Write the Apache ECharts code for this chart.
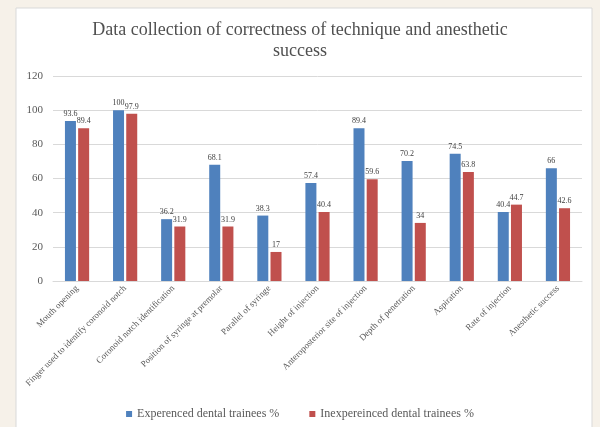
<!DOCTYPE html>
<html>
<head>
<meta charset="utf-8">
<script src="https://cdn.jsdelivr.net/npm/echarts@6/dist/echarts.min.js"></script>
<style>
html,body{margin:0;padding:0;background:#f6f1e9;}
#c{width:600px;height:427px;}
</style>
</head>
<body>
<div id="c"></div>
<script>
const categories = [
  "Mouth opening",
  "Finger used to identify coronoid notch",
  "Coronoid notch identification",
  "Position of syringe at premolar",
  "Parallel of syringe",
  "Height of injection",
  "Anteroposterior site of injection",
  "Depth of penetration",
  "Aspiration",
  "Rate of injection",
  "Anesthetic success"
];
const experienced = [93.6, 100, 36.2, 68.1, 38.3, 57.4, 89.4, 70.2, 74.5, 40.4, 66];
const inexperienced = [89.4, 97.9, 31.9, 31.9, 17, 40.4, 59.6, 34, 63.8, 44.7, 42.6];
const seriesNames = ["Experenced dental trainees %", "Inexpereinced dental trainees %"];
const titleText = "Data collection of correctness of technique and anesthetic\nsuccess";

const serif = "'Liberation Serif', 'DejaVu Serif', serif";
const chart = echarts.init(document.getElementById('c'), null, {renderer: 'canvas'});
const labelCfg = {show: true, position: 'top', fontSize: 8, color: '#404040', fontFamily: serif, distance: 3};
chart.setOption({
  backgroundColor: '#f6f1e9',
  graphic: [{
    type: 'rect', z: -10, silent: true,
    shape: {x: 16, y: 8, width: 576, height: 430},
    style: {fill: '#ffffff', stroke: '#d9d9d9', lineWidth: 1}
  }],
  title: {
    text: titleText, left: 'center', top: 15,
    textStyle: {fontFamily: serif, fontSize: 18, fontWeight: 'normal', color: '#505050', lineHeight: 21}
  },
  legend: {
    bottom: 2, left: 'center', itemWidth: 6, itemHeight: 6, itemGap: 30, icon: 'rect',
    textStyle: {fontFamily: serif, fontSize: 12, color: '#595959'},
    data: seriesNames
  },
  grid: {left: 53, right: 18, top: 76, bottom: 146},
  xAxis: {
    type: 'category', data: categories,
    axisLine: {lineStyle: {color: '#d9d9d9'}},
    axisTick: {show: false},
    axisLabel: {rotate: 45, interval: 0, fontSize: 9, color: '#595959', fontFamily: serif, margin: 6}
  },
  yAxis: {
    type: 'value', min: 0, max: 120, interval: 20,
    axisLine: {show: false}, axisTick: {show: false},
    axisLabel: {fontSize: 11, color: '#595959', fontFamily: serif, margin: 10},
    splitLine: {lineStyle: {color: '#d9d9d9'}}
  },
  series: [
    {name: seriesNames[0], type: 'bar', data: experienced, barWidth: 11, barGap: '20%',
     itemStyle: {color: '#4f81bd'}, label: labelCfg},
    {name: seriesNames[1], type: 'bar', data: inexperienced, barWidth: 11,
     itemStyle: {color: '#c0504d'}, label: labelCfg}
  ]
});
</script>
</body>
</html>
